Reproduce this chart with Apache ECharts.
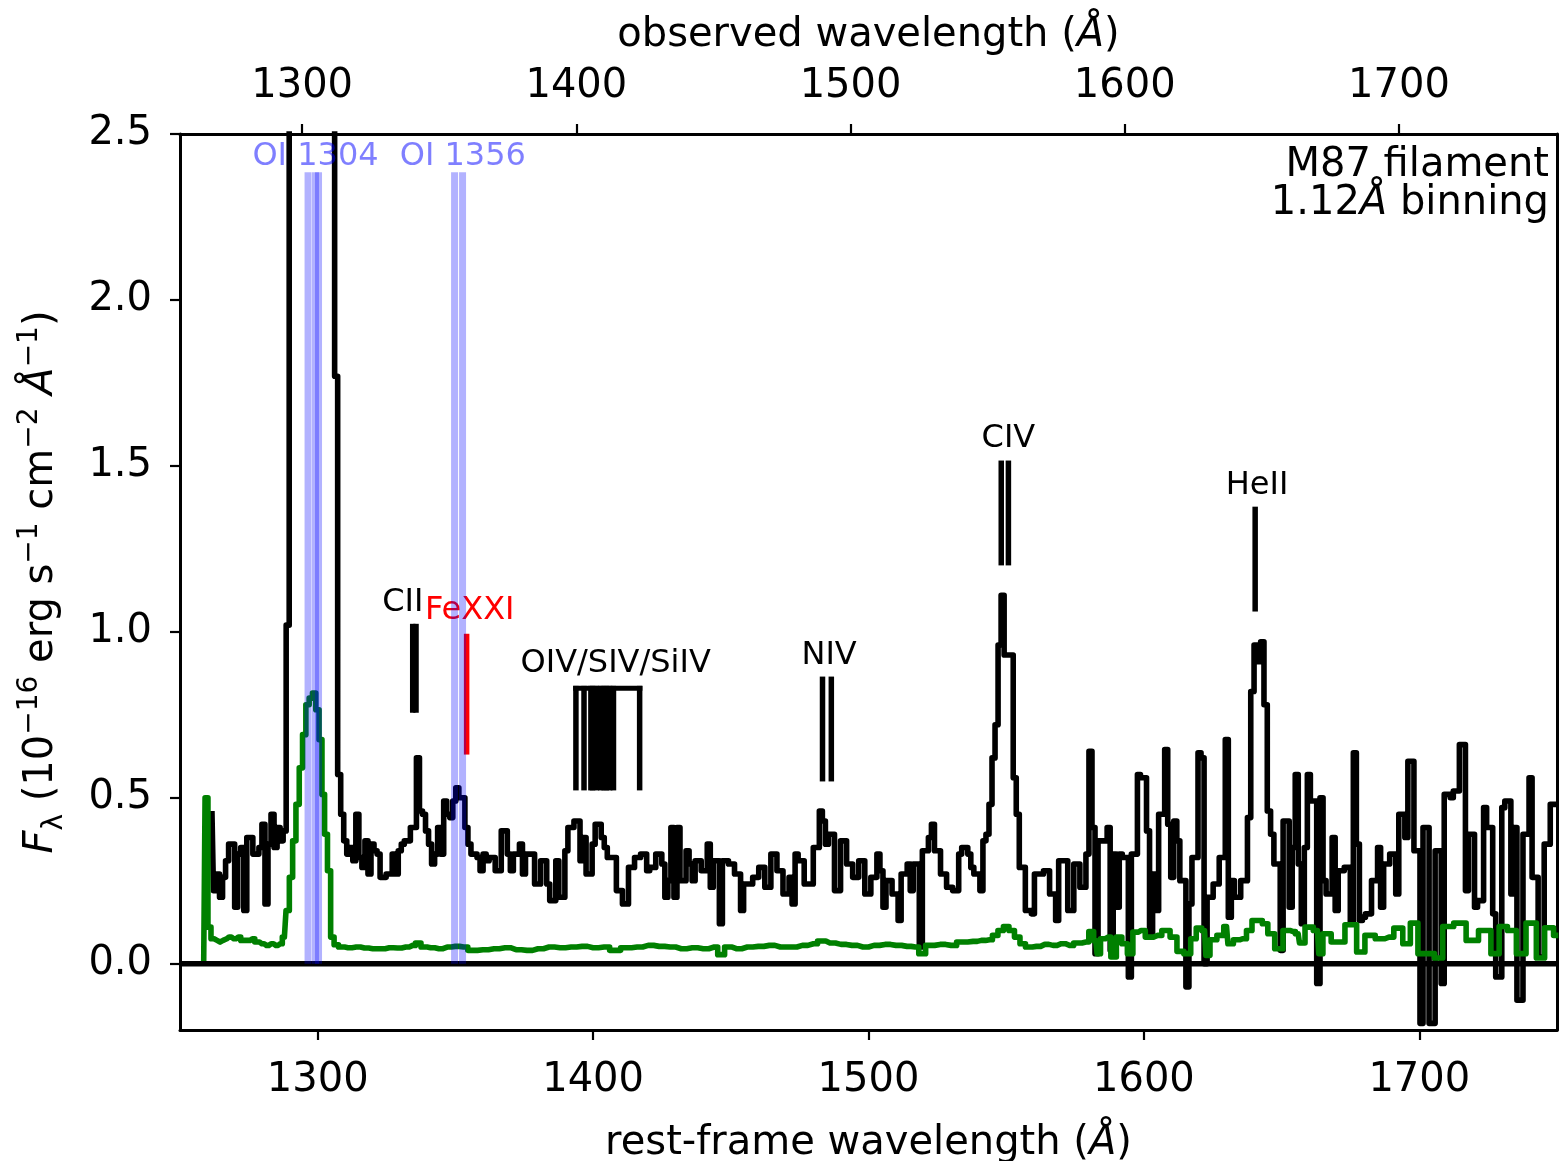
<!DOCTYPE html>
<html>
<head>
<meta charset="utf-8">
<title>M87 filament UV spectrum</title>
<script src="https://cdn.jsdelivr.net/npm/echarts@6/dist/echarts.min.js"></script>
<style>
  html, body { margin: 0; padding: 0; background: #ffffff; }
  #chart { width: 1560px; height: 1161px; }
</style>
</head>
<body>
<div id="chart"></div>
<script>
// ---- axes -------------------------------------------------------------
const REDSHIFT = 0.00436;
const restRange = [1250, 1750];
const restTicks = [1300, 1400, 1500, 1600, 1700];
const observedTicks = [1300, 1400, 1500, 1600, 1700];
const fluxRange = [-0.2, 2.5];
const fluxTicks = [0, 0.5, 1.0, 1.5, 2.0, 2.5];

// ---- filament spectrum (rest-frame wavelength, 1e-16 erg/s/cm2/A) -----
const specWave = [
  1261.6,1262.7,1263.8,1264.9,1266.0,1267.1,1268.2,1269.3,1270.4,1271.5,1272.6,1273.7,1274.8,1275.9,1277.0,1278.1,
  1279.2,1280.3,1281.4,1282.5,1283.6,1284.7,1285.8,1286.9,1288.0,1289.1,1290.2,1291.3,1292.4,1293.5,1294.6,1295.7,
  1296.8,1297.9,1299.0,1300.1,1301.2,1302.3,1303.4,1304.5,1305.6,1306.7,1307.8,1308.9,1310.0,1311.1,1312.2,1313.3,
  1314.4,1315.5,1316.6,1317.7,1318.8,1319.9,1321.0,1322.1,1323.2,1324.3,1325.4,1326.5,1327.6,1328.7,1329.8,1330.9,
  1332.0,1333.1,1334.2,1335.3,1336.4,1337.5,1338.6,1339.7,1340.8,1341.9,1343.0,1344.1,1345.2,1346.3,1347.4,1348.5,
  1349.6,1350.7,1351.8,1352.9,1354.0,1355.1,1356.2,1357.3,1358.4,1359.5,1360.6,1361.7,1362.8,1363.9,1365.0,1366.1,
  1367.2,1368.3,1369.4,1370.5,1371.6,1372.7,1373.8,1374.9,1376.0,1377.1,1378.2,1379.3,1380.4,1381.5,1382.6,1383.7,
  1384.8,1385.9,1387.0,1388.1,1389.2,1390.3,1391.4,1392.5,1393.6,1394.7,1395.8,1396.9,1398.0,1399.1,1400.2,1401.3,
  1402.4,1403.5,1404.6,1405.7,1406.8,1407.9,1409.0,1410.1,1411.2,1412.3,1413.4,1414.5,1415.6,1416.7,1417.8,1418.9,
  1420.0,1421.1,1422.2,1423.3,1424.4,1425.5,1426.6,1427.7,1428.8,1429.9,1431.0,1432.1,1433.2,1434.3,1435.4,1436.5,
  1437.6,1438.7,1439.8,1440.9,1442.0,1443.1,1444.2,1445.3,1446.4,1447.5,1448.6,1449.7,1450.8,1451.9,1453.0,1454.1,
  1455.2,1456.3,1457.4,1458.5,1459.6,1460.7,1461.8,1462.9,1464.0,1465.1,1466.2,1467.3,1468.4,1469.5,1470.6,1471.7,
  1472.8,1473.9,1475.0,1476.1,1477.2,1478.3,1479.4,1480.5,1481.6,1482.7,1483.8,1484.9,1486.0,1487.1,1488.2,1489.3,
  1490.4,1491.5,1492.6,1493.7,1494.8,1495.9,1497.0,1498.1,1499.2,1500.3,1501.4,1502.5,1503.6,1504.7,1505.8,1506.9,
  1508.0,1509.1,1510.2,1511.3,1512.4,1513.5,1514.6,1515.7,1516.8,1517.9,1519.0,1520.1,1521.2,1522.3,1523.4,1524.5,
  1525.6,1526.7,1527.8,1528.9,1530.0,1531.1,1532.2,1533.3,1534.4,1535.5,1536.6,1537.7,1538.8,1539.9,1541.0,1542.1,
  1543.2,1544.3,1545.4,1546.5,1547.6,1548.7,1549.8,1550.9,1552.0,1553.1,1554.2,1555.3,1556.4,1557.5,1558.6,1559.7,
  1560.8,1561.9,1563.0,1564.1,1565.2,1566.3,1567.4,1568.5,1569.6,1570.7,1571.8,1572.9,1574.0,1575.1,1576.2,1577.3,
  1578.4,1579.5,1580.6,1581.7,1582.8,1583.9,1585.0,1586.1,1587.2,1588.3,1589.4,1590.5,1591.6,1592.7,1593.8,1594.9,
  1596.0,1597.1,1598.2,1599.3,1600.4,1601.5,1602.6,1603.7,1604.8,1605.9,1607.0,1608.1,1609.2,1610.3,1611.4,1612.5,
  1613.6,1614.7,1615.8,1616.9,1618.0,1619.1,1620.2,1621.3,1622.4,1623.5,1624.6,1625.7,1626.8,1627.9,1629.0,1630.1,
  1631.2,1632.3,1633.4,1634.5,1635.8,1637.0,1638.2,1639.4,1640.6,1641.8,1643.0,1644.2,1645.4,1646.6,1647.8,1649.0,
  1650.0,1651.1,1652.2,1653.3,1654.4,1655.5,1656.6,1657.7,1658.8,1659.9,1661.0,1662.1,1663.4,1664.5,1665.6,1666.7,
  1667.8,1668.9,1670.0,1671.1,1672.2,1673.3,1674.4,1675.5,1676.6,1677.7,1678.8,1679.9,1681.0,1682.1,1683.2,1684.3,
  1685.4,1686.5,1687.6,1688.7,1689.8,1690.9,1692.0,1693.1,1694.2,1695.3,1696.4,1697.5,1698.6,1699.7,1700.8,1701.9,
  1703.0,1704.1,1705.2,1706.3,1707.4,1708.5,1709.6,1710.7,1711.8,1712.9,1714.0,1715.1,1716.2,1717.3,1718.4,1719.5,
  1720.6,1721.7,1722.8,1723.9,1725.0,1726.1,1727.2,1728.3,1729.4,1730.5,1731.6,1732.7,1733.8,1734.9,1736.0,1737.1,
  1738.2,1739.3,1740.4,1741.5,1742.6,1743.7,1744.8,1745.9,1747.0,1748.1,1749.2,1750.3
];
const specFlux = [
  0.46,0.22,0.27,0.20,0.26,0.31,0.36,0.36,0.17,0.33,0.35,0.16,0.38,0.38,0.33,0.33,
  0.35,0.42,0.18,0.36,0.45,0.35,0.41,0.37,0.40,1.02,3.4,6.1,8.9,11.2,12.5,12.9,
  12.1,10.6,8.8,7.0,5.4,4.2,3.3,2.9,2.7,1.77,0.57,0.45,0.37,0.33,0.35,0.31,
  0.45,0.32,0.29,0.37,0.27,0.36,0.34,0.33,0.26,0.26,0.27,0.27,0.33,0.27,0.34,0.36,
  0.37,0.37,0.41,0.41,0.62,0.46,0.45,0.40,0.36,0.30,0.33,0.41,0.33,0.49,0.45,0.44,
  0.49,0.53,0.50,0.50,0.41,0.36,0.33,0.33,0.32,0.28,0.33,0.31,0.32,0.32,0.28,0.28,
  0.40,0.40,0.33,0.28,0.33,0.33,0.36,0.27,0.33,0.33,0.33,0.24,0.24,0.31,0.31,0.24,
  0.19,0.19,0.31,0.20,0.20,0.34,0.41,0.41,0.43,0.43,0.31,0.38,0.27,0.27,0.36,0.42,
  0.42,0.38,0.35,0.32,0.32,0.32,0.22,0.22,0.18,0.18,0.29,0.29,0.32,0.32,0.33,0.33,
  0.28,0.29,0.29,0.33,0.33,0.30,0.20,0.25,0.41,0.20,0.41,0.25,0.25,0.34,0.30,0.25,
  0.31,0.31,0.28,0.28,0.36,0.23,0.31,0.31,0.12,0.31,0.31,0.30,0.30,0.27,0.27,0.16,
  0.24,0.24,0.24,0.26,0.26,0.29,0.29,0.23,0.23,0.33,0.33,0.28,0.28,0.21,0.21,0.26,
  0.18,0.33,0.31,0.31,0.24,0.24,0.24,0.35,0.35,0.46,0.43,0.36,0.39,0.39,0.22,0.22,
  0.37,0.37,0.30,0.30,0.26,0.26,0.31,0.31,0.21,0.21,0.26,0.26,0.33,0.28,0.17,0.25,
  0.25,0.21,0.21,0.13,0.27,0.27,0.30,0.22,0.30,0.30,0.05,0.34,0.34,0.38,0.42,0.34,
  0.34,0.27,0.27,0.23,0.23,0.22,0.22,0.33,0.35,0.35,0.33,0.29,0.27,0.27,0.22,0.37,
  0.39,0.48,0.62,0.72,0.96,1.11,0.93,0.93,0.93,0.56,0.45,0.29,0.29,0.16,0.16,0.15,
  0.27,0.27,0.27,0.28,0.28,0.21,0.21,0.13,0.31,0.31,0.31,0.16,0.16,0.30,0.30,0.23,
  0.23,0.33,0.64,0.41,0.03,0.37,0.37,0.37,0.41,0.04,0.33,0.17,0.33,0.32,0.32,-0.04,
  0.33,0.33,0.57,0.56,0.56,0.40,0.09,0.27,0.16,0.45,0.45,0.645,0.42,0.26,0.43,0.37,
  0.25,0.25,-0.07,0.18,0.32,0.32,0.635,0.62,0.0,0.20,0.20,0.24,0.24,0.32,0.32,0.675,
  0.14,0.25,0.20,0.20,0.25,0.25,0.44,0.82,0.96,0.91,0.97,0.78,0.46,0.39,0.30,0.30,
  0.04,0.43,0.43,0.17,0.35,0.57,0.30,0.12,0.35,0.57,0.49,0.49,-0.06,0.50,0.25,0.21,
  0.21,0.38,0.16,0.28,0.28,0.29,0.29,0.12,0.635,0.36,0.13,0.14,0.15,0.15,0.25,0.25,
  0.35,0.17,0.30,0.30,0.33,0.33,0.21,0.45,0.45,0.38,0.61,0.61,0.34,0.34,-0.18,0.41,
  0.41,-0.18,-0.18,0.34,0.34,-0.06,0.51,0.51,0.50,0.52,0.52,0.66,0.66,0.22,0.39,0.39,
  0.17,0.19,0.19,0.47,0.41,0.41,0.15,-0.04,-0.04,0.47,0.49,0.49,0.21,0.41,-0.11,-0.11,
  0.39,0.39,0.56,0.26,0.26,0.02,0.02,0.36,0.36,0.48,0.48,0.48
];

// ---- sky / error spectrum ----------------------------------------------
const noiseWave = [
  1258.6,1259.6,1260.7,1261.8,1262.9,1264.0,1265.1,1266.2,1267.8,1269.5,1271.2,1272.9,1274.6,1276.3,1278.0,1279.7,
  1281.4,1283.1,1284.8,1286.4,1287.9,1289.1,1290.3,1291.5,1292.7,1293.9,1295.1,1296.3,1297.5,1298.7,1299.9,1301.1,
  1302.0,1303.0,1304.1,1305.3,1306.6,1308.5,1311.0,1314.0,1317.0,1320.0,1323.0,1326.0,1329.0,1332.0,1334.5,1336.5,
  1338.5,1341.0,1344.0,1347.0,1350.0,1353.0,1356.0,1360.0,1364.0,1368.0,1372.0,1376.0,1380.0,1384.0,1388.0,1392.0,
  1396.0,1400.0,1404.0,1408.0,1412.0,1416.0,1420.0,1424.0,1428.0,1432.0,1436.0,1440.0,1444.0,1446.5,1449.0,1452.0,
  1456.0,1460.0,1464.0,1468.0,1472.0,1476.0,1480.0,1483.0,1486.0,1490.0,1494.0,1498.0,1502.0,1506.0,1510.0,1514.0,
  1517.0,1519.5,1522.0,1526.0,1530.0,1534.0,1538.0,1541.0,1544.0,1546.0,1548.0,1550.0,1552.0,1554.0,1556.0,1558.0,
  1561.0,1564.0,1567.0,1570.0,1573.0,1576.0,1579.0,1581.0,1582.5,1583.5,1585.0,1587.0,1589.0,1591.0,1593.0,1595.0,
  1597.0,1599.0,1602.0,1605.0,1608.0,1611.0,1613.0,1616.0,1618.0,1620.0,1622.0,1623.0,1625.0,1628.0,1630.0,1631.0,
  1634.0,1636.0,1638.5,1640.0,1642.0,1644.0,1646.0,1649.0,1652.0,1654.0,1656.0,1657.0,1660.0,1663.0,1664.0,1666.0,
  1670.0,1676.0,1678.5,1682.0,1686.0,1689.0,1692.5,1695.5,1698.0,1701.0,1704.0,1707.0,1710.0,1715.0,1719.0,1724.0,
  1728.0,1730.0,1734.0,1736.5,1741.0,1744.0,1747.0,1750.5
];
const noiseFlux = [
  0.0,0.50,0.11,0.075,0.07,0.065,0.07,0.075,0.08,0.075,0.08,0.07,0.07,0.075,0.065,0.06,
  0.055,0.06,0.055,0.06,0.08,0.16,0.26,0.37,0.48,0.59,0.69,0.78,0.80,0.815,0.765,0.675,
  0.51,0.39,0.28,0.08,0.057,0.05,0.048,0.05,0.047,0.045,0.045,0.048,0.047,0.05,0.055,0.062,
  0.05,0.048,0.045,0.05,0.052,0.05,0.04,0.042,0.045,0.048,0.042,0.04,0.045,0.05,0.048,0.05,
  0.052,0.048,0.05,0.04,0.048,0.05,0.055,0.052,0.05,0.045,0.048,0.045,0.05,0.027,0.05,0.045,
  0.05,0.052,0.055,0.05,0.05,0.055,0.06,0.068,0.062,0.058,0.055,0.05,0.055,0.058,0.055,0.052,
  0.05,0.03,0.055,0.058,0.055,0.065,0.067,0.07,0.072,0.085,0.10,0.112,0.10,0.08,0.06,0.05,
  0.052,0.058,0.055,0.06,0.055,0.062,0.065,0.097,0.07,0.03,0.075,0.08,0.02,0.08,0.06,0.03,
  0.095,0.10,0.08,0.085,0.10,0.08,0.037,0.03,0.075,0.107,0.10,0.025,0.072,0.085,0.112,0.06,
  0.072,0.075,0.10,0.13,0.13,0.12,0.09,0.045,0.10,0.097,0.09,0.062,0.11,0.10,0.03,0.09,
  0.065,0.117,0.035,0.085,0.075,0.08,0.107,0.06,0.122,0.03,0.03,0.017,0.112,0.122,0.07,0.10,
  0.03,0.112,0.10,0.03,0.122,0.017,0.108,0.085
];

// ---- identified emission lines ------------------------------------------
const lineNames = ['CII', 'FeXXI', 'OIV/SIV/SiIV', 'NIV', 'CIV', 'HeII'];
const lineWaves = [
  [1334.5, 1335.7],
  [1354.08],
  [1393.76, 1396.7, 1399.2, 1399.8, 1401.2, 1402.77, 1404.0, 1404.8, 1406.0, 1407.4, 1416.9],
  [1483.3, 1486.5],
  [1548.2, 1550.8],
  [1640.4]
];
const lineBottom = [0.756, 0.630, 0.522, 0.549, 1.200, 1.061];
const lineTop = [1.024, 0.994, 0.837, 0.865, 1.516, 1.377];
const labelWave = [1330.9, 1355.2, 1408.2, 1485.7, 1550.8, 1641.1];
const labelFlux = [1.054, 1.030, 0.870, 0.895, 1.548, 1.407];

// ---- geocoronal airglow (rest-frame positions) --------------------------
const airglowWave = [1296.5, 1299.2, 1300.3, 1349.7, 1352.6];
const airglowTop = 2.385;
const airglowNames = ['OI 1304', 'OI 1356'];
const airglowLabelWave = [1299.2, 1352.7];
const airglowLabelFlux = 2.399;

// ---- drawing ------------------------------------------------------------
const FONT = 'DejaVu Sans';
const BLACK = '#000000';
const GREEN = '#008000';
const RED = '#ff0000';
const AIRGLOW = 'rgba(0,0,255,0.3)';
const AIRGLOW_TEXT = 'rgba(0,0,255,0.5)';
const TICK_FONT = 40;
const NOTE_FONT = 32;
const MID = 0.346; // em-middle above the alphabetic baseline for DejaVu Sans
const SPEC_WIDTH = 5.6;

const zip = (xs, ys) => xs.map((x, i) => [x, ys[i]]);
const plain = v => String(Math.round(v));

const chart = echarts.init(document.getElementById('chart'), null, { renderer: 'canvas', width: 1560, height: 1161 });

const labelStyle = { color: BLACK, fontSize: TICK_FONT, fontFamily: FONT };
const nameRich = {
  n: { fontSize: TICK_FONT, fontFamily: FONT, color: BLACK },
  it: { fontSize: TICK_FONT, fontFamily: FONT, fontStyle: 'italic', color: BLACK }
};

const option = {
  backgroundColor: '#ffffff',
  animation: false,
  grid: { left: 180, right: 3, top: 134, bottom: 131, containLabel: false, outerBoundsMode: 'none' },
  xAxis: [
    {
      type: 'value', position: 'bottom', min: restRange[0], max: restRange[1],
      axisLine: { onZero: false, lineStyle: { color: BLACK, width: 3 } },
      axisTick: { show: true, inside: false, length: 10, customValues: restTicks, lineStyle: { color: BLACK, width: 2.2 } },
      axisLabel: Object.assign({ customValues: restTicks, margin: 31, formatter: plain }, labelStyle),
      splitLine: { show: false },
      name: '{n|rest-frame wavelength (}{it|Å}{n|)}', nameLocation: 'middle', nameGap: 94,
      nameTextStyle: { color: BLACK, fontSize: TICK_FONT, fontFamily: FONT, rich: nameRich }
    },
    {
      type: 'value', position: 'top',
      min: restRange[0] * (1 + REDSHIFT), max: restRange[1] * (1 + REDSHIFT),
      axisLine: { onZero: false, lineStyle: { color: BLACK, width: 3 } },
      axisTick: { show: true, inside: false, length: 10, customValues: observedTicks, lineStyle: { color: BLACK, width: 2.2 } },
      axisLabel: Object.assign({ customValues: observedTicks, margin: 27, formatter: plain }, labelStyle),
      splitLine: { show: false },
      name: '{n|observed wavelength (}{it|Å}{n|)}', nameLocation: 'middle', nameGap: 78,
      nameTextStyle: { color: BLACK, fontSize: TICK_FONT, fontFamily: FONT, rich: nameRich }
    }
  ],
  yAxis: [
    {
      type: 'value', position: 'left', min: fluxRange[0], max: fluxRange[1],
      axisLine: { show: true, onZero: false, lineStyle: { color: BLACK, width: 3 } },
      axisTick: { show: true, inside: false, length: 10, customValues: fluxTicks, lineStyle: { color: BLACK, width: 2.2 } },
      axisLabel: Object.assign({ customValues: fluxTicks, margin: 28, formatter: v => Number(v).toFixed(1) }, labelStyle),
      splitLine: { show: false }
    },
    {
      type: 'value', position: 'right', min: fluxRange[0], max: fluxRange[1],
      axisLine: { show: true, onZero: false, lineStyle: { color: BLACK, width: 3 } },
      axisTick: { show: false }, axisLabel: { show: false }, splitLine: { show: false }
    }
  ],
  series: [
    {
      name: 'filament', type: 'line', xAxisIndex: 0, yAxisIndex: 0,
      data: zip(specWave, specFlux), step: 'middle', symbol: 'none', showSymbol: false,
      lineStyle: { color: BLACK, width: SPEC_WIDTH, join: 'round' }, clip: true, silent: true, z: 2
    },
    {
      name: 'sky', type: 'line', xAxisIndex: 0, yAxisIndex: 0,
      data: zip(noiseWave, noiseFlux), step: 'middle', symbol: 'none', showSymbol: false,
      lineStyle: { color: GREEN, width: SPEC_WIDTH, join: 'round' }, clip: true, silent: true, z: 3
    },
    {
      name: 'zero', type: 'line', xAxisIndex: 0, yAxisIndex: 0,
      data: [[restRange[0], 0], [restRange[1], 0]], symbol: 'none', showSymbol: false,
      lineStyle: { color: BLACK, width: 5.5 }, clip: true, silent: true, z: 4
    },
    {
      name: 'lines', type: 'custom', xAxisIndex: 0, yAxisIndex: 0, silent: true, z: 5, clip: false,
      data: zip(labelWave, labelFlux),
      renderItem: function (params, api) {
        const i = params.dataIndex;
        const color = lineNames[i] === 'FeXXI' ? RED : BLACK;
        const lw = 5.5;
        const children = [];
        lineWaves[i].forEach(function (w) {
          const p0 = api.coord([w, lineBottom[i]]);
          const p1 = api.coord([w, lineTop[i]]);
          children.push({ type: 'line', shape: { x1: p0[0], y1: p0[1], x2: p1[0], y2: p1[1] },
            style: { stroke: color, lineWidth: lw, lineCap: 'butt' } });
        });
        if (lineWaves[i].length > 2) {
          const a = api.coord([lineWaves[i][0], lineTop[i]]);
          const b = api.coord([lineWaves[i][lineWaves[i].length - 1], lineTop[i]]);
          children.push({ type: 'line', shape: { x1: a[0] - lw / 2, y1: a[1] + 2.5, x2: b[0] + lw / 2, y2: b[1] + 2.5 },
            style: { stroke: color, lineWidth: 5, lineCap: 'butt' } });
        }
        const lp = api.coord([labelWave[i], labelFlux[i]]);
        children.push({ type: 'text', style: { text: lineNames[i], x: lp[0], y: lp[1] - MID * NOTE_FONT,
          fill: color, fontSize: NOTE_FONT, fontFamily: FONT, align: 'center', verticalAlign: 'middle' } });
        return { type: 'group', children: children };
      }
    },
    {
      name: 'airglow', type: 'custom', xAxisIndex: 0, yAxisIndex: 0, silent: true, z: 6, clip: true,
      data: airglowWave.map(function (w) { return [w, airglowTop]; }),
      renderItem: function (params, api) {
        const top = api.coord([api.value(0), airglowTop]);
        const bottom = api.coord([api.value(0), 0]);
        return { type: 'rect', shape: { x: top[0] - 3.5, y: top[1], width: 7, height: bottom[1] - top[1] },
          style: { fill: AIRGLOW } };
      }
    },
    {
      name: 'airglow labels', type: 'custom', xAxisIndex: 0, yAxisIndex: 0, silent: true, z: 7, clip: false,
      data: airglowLabelWave.map(function (w) { return [w, airglowLabelFlux]; }),
      renderItem: function (params, api) {
        const p = api.coord([api.value(0), api.value(1)]);
        return { type: 'text', style: { text: airglowNames[params.dataIndex], x: p[0], y: p[1] - MID * NOTE_FONT,
          fill: AIRGLOW_TEXT, fontSize: NOTE_FONT, fontFamily: FONT, align: 'center', verticalAlign: 'middle' } };
      }
    }
  ],
  graphic: [
    {
      type: 'text', right: 11, top: 146, z: 10,
      style: { text: 'M87 filament', fill: BLACK, fontSize: TICK_FONT, fontFamily: FONT }
    },
    {
      type: 'text', right: 11, top: 184, z: 10,
      style: {
        text: '{n|1.12}{it|Å}{n| binning}', fill: BLACK, fontSize: TICK_FONT, fontFamily: FONT,
        rich: nameRich
      }
    },
    {
      type: 'text', x: 42, y: 582, rotation: Math.PI / 2, z: 10,
      style: {
        text: '{it|F}{sub|λ}{n| (10}{sup|−16}{n| erg s}{sup|−1}{n| cm}{sup|−2}{n| }{it|Å}{sup|−1}{n|)}',
        align: 'center', verticalAlign: 'middle', fill: BLACK, fontFamily: FONT, fontSize: TICK_FONT,
        rich: {
          n: { fontSize: 40, fontFamily: FONT, fill: BLACK, verticalAlign: 'top', padding: [6, 0, 0, 0] },
          it: { fontSize: 40, fontFamily: FONT, fontStyle: 'italic', fill: BLACK, verticalAlign: 'top', padding: [6, 0, 0, 0] },
          sup: { fontSize: 28, fontFamily: FONT, fill: BLACK, verticalAlign: 'top', padding: [0, 0, 0, 0] },
          sub: { fontSize: 28, fontFamily: FONT, fill: BLACK, verticalAlign: 'top', padding: [25, 0, 0, 0] }
        }
      }
    }
  ]
};

chart.setOption(option);
</script>
</body>
</html>
